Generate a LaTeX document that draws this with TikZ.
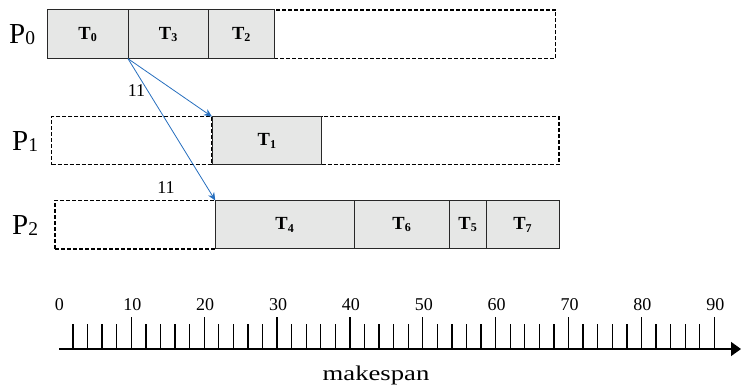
\documentclass[tikz,border=0pt]{standalone}
\usepackage{fontspec}
\setmainfont{Liberation Serif}
\usetikzlibrary{arrows.meta}
\definecolor{taskfill}{RGB}{230,231,230}
\definecolor{msgblue}{RGB}{38,110,190}
\definecolor{edgegray}{RGB}{40,40,40}
% task label: bold T with a lowered index
\newcommand{\tk}[1]{{\fontsize{18.5}{18.5}\selectfont\bfseries T\raisebox{-2.5pt}{\fontsize{12}{12}\selectfont #1}}}
% processor label: P with a large lowered index
\newcommand{\proc}[1]{{\fontsize{29}{29}\selectfont P\raisebox{-1pt}{\fontsize{19.5}{19.5}\selectfont #1}}}
\begin{document}
\begin{tikzpicture}[x=1pt,y=-1pt,
  slotbase/.style={anchor=north west, inner sep=0pt, outer sep=0pt, line width=1pt},
  taskbox/.style={slotbase, draw=edgegray, fill=taskfill},
  idlebox/.style={slotbase, draw=black, dash pattern=on 4pt off 2pt, line width=1.2pt},
  proclabel/.style={anchor=base west, inner sep=0pt},
  msg/.style={draw=msgblue, line width=0.8pt, -{Stealth[length=8pt,width=7pt,fill=msgblue]}},
  msglabel/.style={font=\fontsize{18}{18}\selectfont, inner sep=0pt},
  axisline/.style={line width=1.5pt, -{Triangle[length=10pt,width=14pt]}},
  tickmark/.style={line width=1.3pt},
  ticklabel/.style={anchor=base, inner sep=0pt, font=\fontsize{18}{18}\selectfont}]
\useasboundingbox (0,0) rectangle (741,387);

% processor labels
\node[proclabel] (p0) at (9,44) {\proc{0}};
\node[proclabel] (p1) at (12,151) {\proc{1}};
\node[proclabel] (p2) at (12,235) {\proc{2}};

% P0 row
\node[idlebox, minimum width=281.4pt, minimum height=48.7pt] (idle0) at (274.3,10) {};
\node[taskbox, minimum width=80.7pt, minimum height=48.7pt] (t0) at (47.3,10) {\tk{0}};
\node[taskbox, minimum width=80.3pt, minimum height=48.7pt] (t3) at (128,10) {\tk{3}};
\node[taskbox, minimum width=66pt, minimum height=48.7pt] (t2) at (208.3,10) {\tk{2}};

% P1 row
\node[idlebox, minimum width=160.3pt, minimum height=48pt] (idle1a) at (51.7,116.7) {};
\node[idlebox, minimum width=237.3pt, minimum height=48pt] (idle1b) at (321.7,116.7) {};
\node[taskbox, minimum width=109.7pt, minimum height=48pt] (t1) at (212,116.7) {\tk{1}};

% P2 row
\node[idlebox, minimum width=160.3pt, minimum height=48.5pt] (idle2) at (55,200.5) {};
\node[taskbox, minimum width=138.7pt, minimum height=48.5pt] (t4) at (215.3,200.5) {\tk{4}};
\node[taskbox, minimum width=95.3pt, minimum height=48.5pt] (t6) at (354,200.5) {\tk{6}};
\node[taskbox, minimum width=36.7pt, minimum height=48.5pt] (t5) at (449.3,200.5) {\tk{5}};
\node[taskbox, minimum width=73pt, minimum height=48.5pt] (t7) at (486,200.5) {\tk{7}};

% communication edges
\draw[msg] (t0.south east) -- (t1.north west);
\draw[msg] (t0.south east) -- (t4.north west);
\node[msglabel] (c01) at (136.5,91) {11};
\node[msglabel] (c04) at (166,187.5) {11};

% time axis
\coordinate (origin) at (59,349);
\coordinate (axend) at (741,349);
\draw[axisline] (origin) -- (axend);
\foreach \i in {1,...,45}{
  \pgfmathsetmacro{\tx}{58.4+\i*14.576}
  \pgfmathtruncatemacro{\ismajor}{mod(\i,5)==0 ? 1 : 0}
  \ifnum\ismajor=1
    \draw[tickmark] (\tx,349) -- (\tx,316.7);
  \else
    \draw[tickmark] (\tx,349) -- (\tx,324.3);
  \fi
}
\foreach \k in {0,...,9}{
  \pgfmathsetmacro{\tx}{58.4+\k*72.88}
  \pgfmathtruncatemacro{\val}{\k*10}
  \node[ticklabel] (lab\k) at (\tx+1,310) {\val};
}
\node[anchor=base, inner sep=0pt] (mk) at (376,380)
  {\fontsize{21}{21}\selectfont\scalebox{1.27}[1]{makespan}};
\end{tikzpicture}
\end{document}
